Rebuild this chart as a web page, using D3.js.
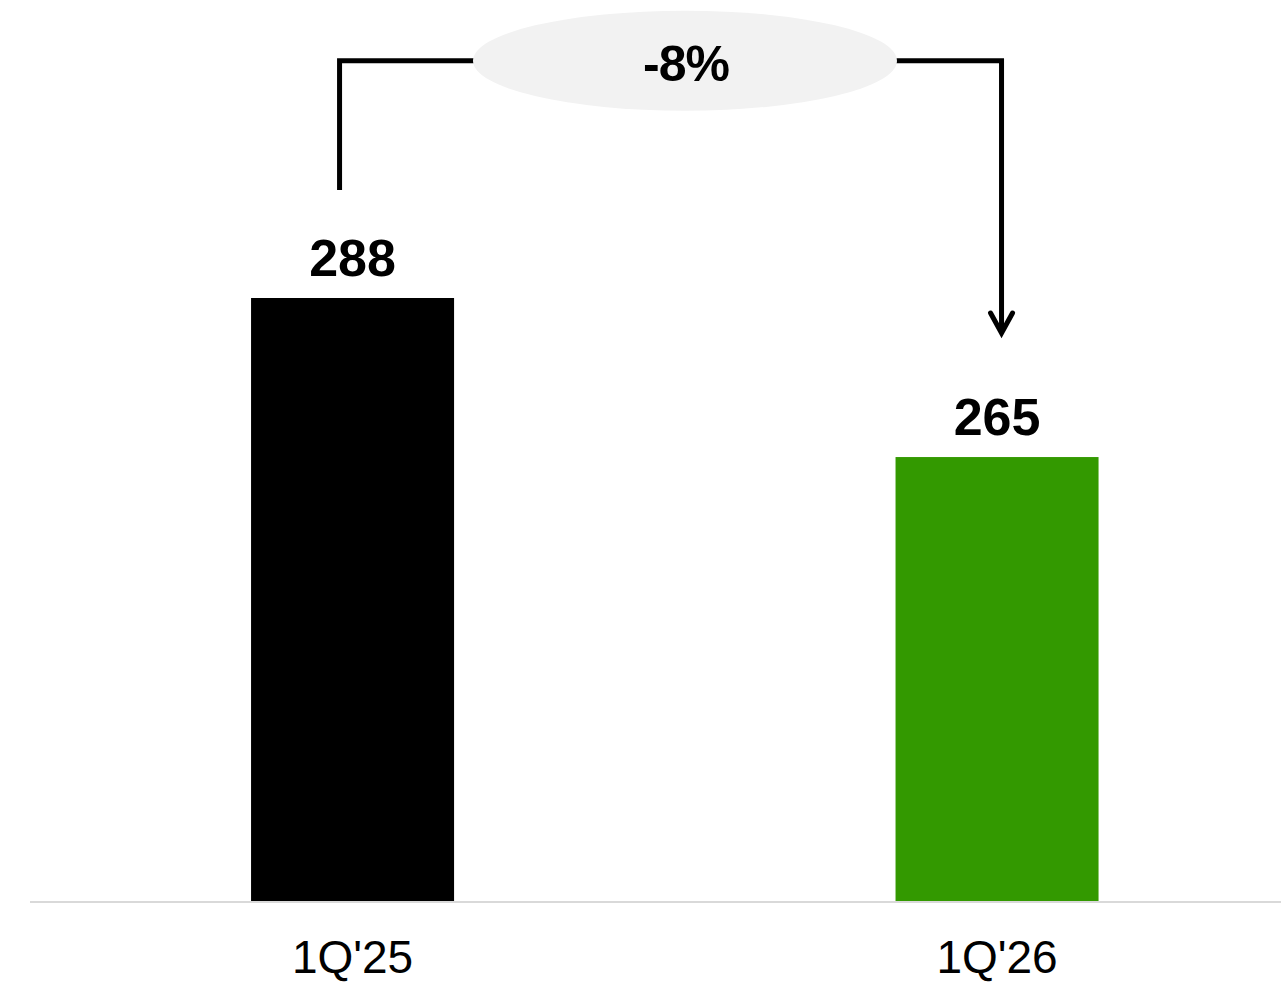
<!DOCTYPE html>
<html>
<head>
<meta charset="utf-8">
<script src="https://cdn.jsdelivr.net/npm/d3@7"></script>
<style>
  html, body { margin: 0; padding: 0; background: #fff; }
  svg { display: block; font-family: "Liberation Sans", Arial, sans-serif; }
</style>
</head>
<body>
<svg id="chart" width="1281" height="983"></svg>
<script>
const categories = ["1Q'25", "1Q'26"];
const values = [288, 265];
const barColors = ["#000000", "#339900"];
const changeLabel = "-8%";

const svg = d3.select("#chart");
const baselineY = 901;

const x = d3.scaleBand()
  .domain(categories)
  .range([30, 1319.6])
  .paddingInner(0.685)
  .paddingOuter(0.343);

const y = d3.scaleLinear()
  .domain([200.8, 288])
  .range([baselineY, 298]);

// bars
svg.selectAll("rect.bar")
  .data(values)
  .join("rect")
  .attr("class", "bar")
  .attr("x", (d, i) => x(categories[i]))
  .attr("width", x.bandwidth())
  .attr("y", d => y(d))
  .attr("height", d => baselineY - y(d))
  .attr("fill", (d, i) => barColors[i]);

// baseline
svg.append("line")
  .attr("x1", 30).attr("x2", 1281)
  .attr("y1", baselineY + 1).attr("y2", baselineY + 1)
  .attr("stroke", "#d9d9d9").attr("stroke-width", 2);

// value labels
svg.selectAll("text.val")
  .data(values)
  .join("text")
  .attr("class", "val")
  .attr("x", (d, i) => x(categories[i]) + x.bandwidth() / 2)
  .attr("y", d => y(d) - 22)
  .attr("text-anchor", "middle")
  .attr("font-size", 52)
  .attr("font-weight", "bold")
  .attr("fill", "#000")
  .text(d => d);

// category labels
svg.selectAll("text.cat")
  .data(categories)
  .join("text")
  .attr("class", "cat")
  .attr("x", d => x(d) + x.bandwidth() / 2)
  .attr("y", 973)
  .attr("text-anchor", "middle")
  .attr("font-size", 46)
  .attr("fill", "#000")
  .text(d => d);

// change bracket arrow
const xl = x(categories[0]) + x.bandwidth() / 2 - 13;
const xr = x(categories[1]) + x.bandwidth() / 2 + 4.5;
const topY = 60.7;
const tipY = 333;
svg.append("path")
  .attr("d", `M${xl},190 V${topY} H${xr} V${tipY - 2}`)
  .attr("fill", "none")
  .attr("stroke", "#000")
  .attr("stroke-width", 5)
  .attr("stroke-linejoin", "miter");
svg.append("path")
  .attr("d", `M${xr - 11},${tipY - 20} L${xr},${tipY} L${xr + 11},${tipY - 20}`)
  .attr("fill", "none")
  .attr("stroke", "#000")
  .attr("stroke-width", 5)
  .attr("stroke-linecap", "round")
  .attr("stroke-linejoin", "miter");

// ellipse badge
svg.append("ellipse")
  .attr("cx", 685).attr("cy", topY)
  .attr("rx", 212).attr("ry", 50)
  .attr("fill", "#f2f2f2");
svg.append("text")
  .attr("x", 686).attr("y", 81)
  .attr("text-anchor", "middle")
  .attr("font-size", 50)
  .attr("font-weight", "bold")
  .attr("letter-spacing", -1)
  .attr("fill", "#000")
  .text(changeLabel);
</script>
</body>
</html>
